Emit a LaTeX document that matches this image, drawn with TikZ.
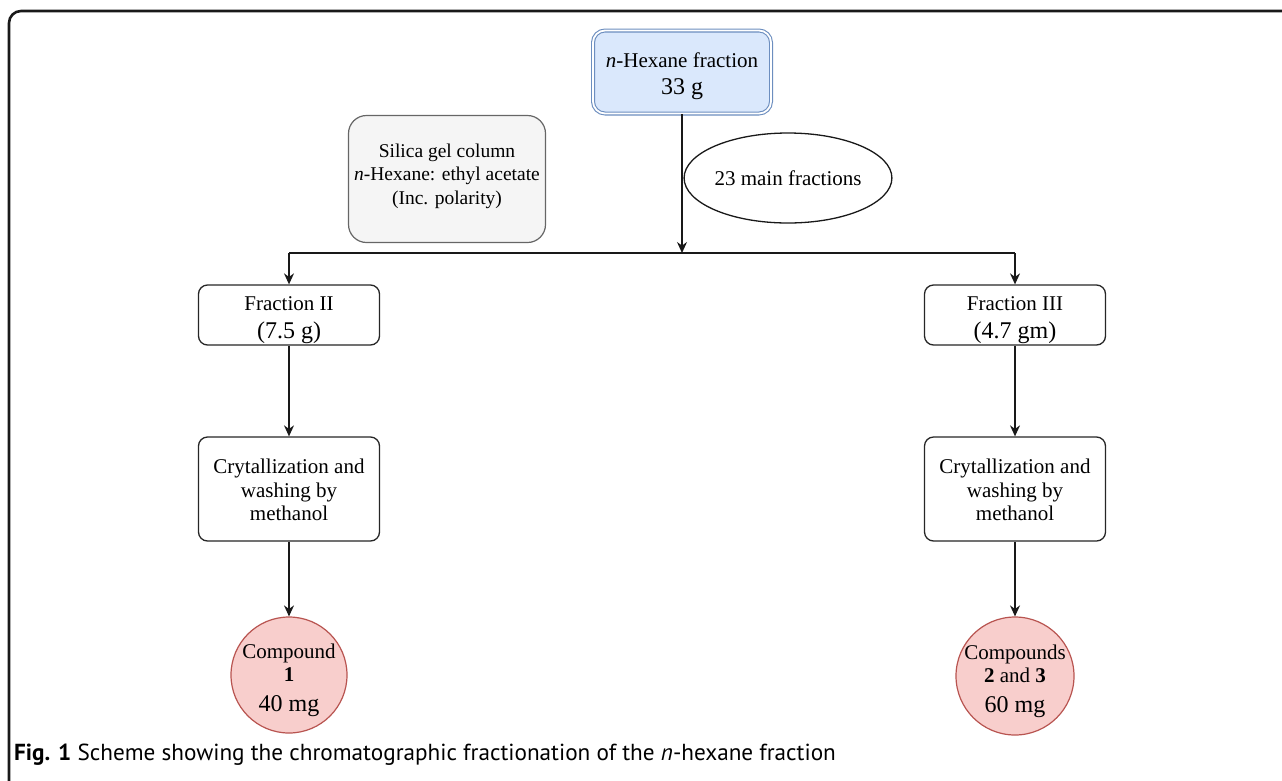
\documentclass[tikz,border=0pt]{standalone}
\usepackage{fontspec}
\setmainfont{Liberation Serif}
\newfontfamily\capfont{PT Sans}
\usetikzlibrary{arrows.meta,shapes.geometric}
\definecolor{bluefill}{HTML}{DAE8FC}
\definecolor{blueline}{HTML}{6C8EBF}
\definecolor{grayfill}{HTML}{F5F5F5}
\definecolor{grayline}{HTML}{666666}
\definecolor{redfill}{HTML}{F8CECC}
\definecolor{redline}{HTML}{B85450}
\newcommand{\fsA}{\fontsize{21}{23.5}\selectfont}
\newcommand{\fsB}{\fontsize{24}{25}\selectfont}
\newcommand{\fsC}{\fontsize{19.5}{23.5}\selectfont}
\begin{document}
\begin{tikzpicture}[x=1pt,y=-1pt,
  box/.style={draw=black!85, line width=1.3pt, rounded corners=9pt, minimum width=181pt, minimum height=60pt, inner sep=0pt, fill=white},
  txt/.style={align=center, inner sep=0pt, font=\fsA},
  arr/.style={-{Stealth[length=11pt,width=10pt]}, line width=1.3pt, black!90},
  ln/.style={line width=1.3pt, black!90},
  circ/.style={circle, draw=redline, fill=redfill, line width=1.2pt, minimum size=116pt, inner sep=0pt}
]
\useasboundingbox (0,0) rectangle (1282,780);
\begin{scope}
\clip (0,0) rectangle (1282,780);
\draw[line width=2.6pt, black!90, rounded corners=12pt] (9,800) -- (9,11) -- (1300,11);
\end{scope}

\node[rounded corners=12pt, draw=blueline, double=white, double distance=1.8pt, line width=1.1pt, fill=bluefill, minimum width=178pt, minimum height=83pt, inner sep=0pt] (top) at (682,72) {};
\node[txt] (topt) at (682,76) {\textit{n}-Hexane fraction\\[3pt] {\fsB 33 g}};

\node[rounded corners=18pt, draw=grayline, fill=grayfill, line width=1.2pt, minimum width=197pt, minimum height=127pt, inner sep=0pt] (silica) at (447,179) {};
\node[txt, font=\fsC] (silicat) at (447,176) {Silica gel column\\ \textit{n}-Hexane: ethyl acetate\\ (Inc. polarity)};

\node[ellipse, draw=black!90, line width=1.3pt, minimum width=168pt, minimum height=90pt, inner sep=0pt, font=\fsA] (ell) at (788,178) {23 main fractions};

\coordinate (split) at (682,253);
\coordinate (L) at (289,253);
\coordinate (R) at (1015,253);

\node[box] (f2) at (289,315) {};
\node[txt] (f2t) at (289,320) {Fraction II\\[4pt] {\fsB(7.5 g)}};
\node[box] (f3) at (1015,315) {};
\node[txt] (f3t) at (1015,320) {Fraction III\\[4pt] {\fsB(4.7 gm)}};

\node[box, minimum height=104pt] (c2) at (289,489) {};
\node[txt] (c2t) at (289,490) {Crytallization and\\ washing by\\ methanol};
\node[box, minimum height=104pt] (c3) at (1015,489) {};
\node[txt] (c3t) at (1015,490) {Crytallization and\\ washing by\\ methanol};

\node[circ] (p1) at (289,675) {};
\node[txt] (p1t) at (289,680) {Compound\\ \textbf{1}\\[6pt] {\fsB 40 mg}};
\node[circ, minimum size=118pt] (p2) at (1015,676) {};
\node[txt] (p2t) at (1015,681) {Compounds\\ \textbf{2} and \textbf{3}\\[6pt] {\fsB 60 mg}};

\draw[arr] (top.south) -- (split);
\draw[ln] (split) -- (L);
\draw[ln] (split) -- (R);
\draw[arr] (L) -- (f2.north);
\draw[arr] (R) -- (f3.north);
\draw[arr] (f2.south) -- (c2.north);
\draw[arr] (f3.south) -- (c3.north);
\draw[arr] (c2.south) -- (p1.north);
\draw[arr] (c3.south) -- (p2.north);

\node[anchor=base west, inner sep=0pt] (cap) at (14,760) {\capfont\fontsize{23.2}{25}\selectfont\textbf{Fig. 1} Scheme showing the chromatographic fractionation of the \textit{n}-hexane fraction};
\end{tikzpicture}
\end{document}
